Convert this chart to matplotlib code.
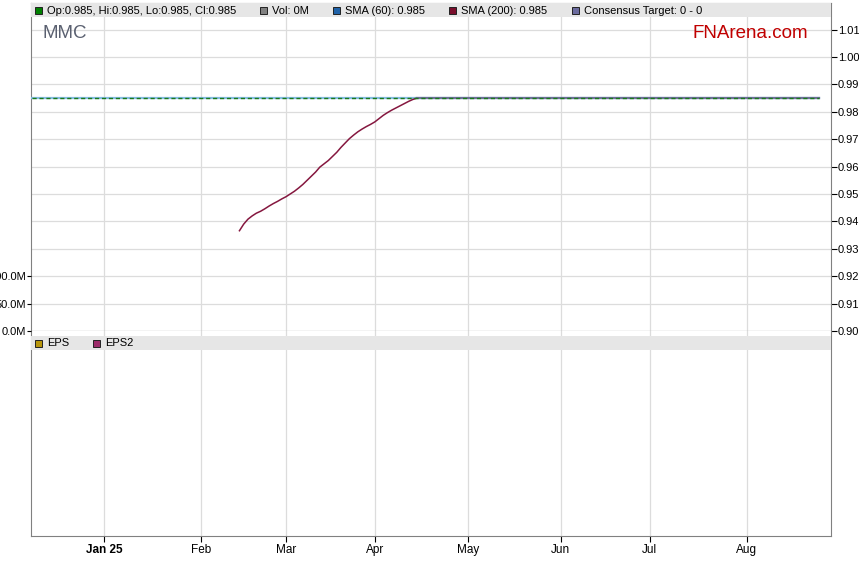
import matplotlib
matplotlib.use("Agg")
import matplotlib.pyplot as plt
import matplotlib.patches as mpatches
import pandas as pd

# trading days shown on the chart
dates = pd.bdate_range("2024-12-09", "2025-08-26")
price = [0.985] * len(dates)
sma60 = [0.985] * len(dates)

# SMA(200) starts mid Feb and climbs to the price
sma200_start = "2025-02-14"
sma200_vals = [0.9366, 0.9390, 0.9408, 0.9420, 0.9430, 0.9437, 0.9446, 0.9456,
               0.9465, 0.9473, 0.9482, 0.9490, 0.9500, 0.9510, 0.9522, 0.9535,
               0.9550, 0.9565, 0.9580, 0.9598, 0.9610, 0.9622, 0.9637, 0.9652,
               0.9670, 0.9686, 0.9702, 0.9715, 0.9727, 0.9737, 0.9746, 0.9754,
               0.9763, 0.9775, 0.9787, 0.9797, 0.9806, 0.9814, 0.9822, 0.9830,
               0.9838, 0.9845, 0.9850]

month_labels = ["Jan 25", "Feb", "Mar", "Apr", "May", "Jun", "Jul", "Aug"]
price_ticks = [0.90, 0.91, 0.92, 0.93, 0.94, 0.95, 0.96, 0.97, 0.98, 0.99, 1.00, 1.01]
vol_ticks = [0, 50e6, 100e6]
vol_labels = ["0.0M", "50.0M", "100.0M"]

legend_top = [("Op:0.985, Hi:0.985, Lo:0.985, Cl:0.985", "#008000"),
              ("Vol: 0M", "#808080"),
              ("SMA (60): 0.985", "#1f62a8"),
              ("SMA (200): 0.985", "#7a0f2c"),
              ("Consensus Target: 0 - 0", "#6b6b9e")]
legend_top_x = [35, 260, 333, 449, 572]
legend_bot = [("EPS", "#b8960c"), ("EPS2", "#9c2c6a")]
legend_bot_x = [35, 93]

plt.rcParams["font.family"] = ["Liberation Sans", "DejaVu Sans"]

W, H = 859, 566
fig = plt.figure(figsize=(W / 100, H / 100), dpi=100)

def fbox(x0, y0, x1, y1):
    return [x0 / W, 1 - y1 / H, (x1 - x0) / W, (y1 - y0) / H]

ax = fig.add_axes(fbox(31, 3, 831, 331))
axb = fig.add_axes(fbox(31, 331, 831, 536))

xs = list(range(len(dates)))
idx = {d: i for i, d in enumerate(dates)}
s0 = idx[pd.Timestamp(sma200_start)]
n_rise = len(sma200_vals)
sx_rise = list(range(s0, s0 + n_rise))
sx_flat = list(range(s0 + n_rise - 1, len(dates)))
sy_flat = [sma200_vals[-1]] * len(sx_flat)

# month tick positions: first trading day of each month
tick_pos = []
prev = None
for i, d in enumerate(dates):
    if d.month != prev:
        if d >= pd.Timestamp("2025-01-01"):
            tick_pos.append(i)
        prev = d.month
tick_pos = tick_pos[:len(month_labels)]

jan = tick_pos[0]
xl = (jan - 17.3, tick_pos[-1] + 19.9)

grid_c = "#dcdcdc"
spine_c = "#808080"

# volume axis (left) - nothing plotted
axv = ax.twinx()
axv.yaxis.tick_left()
axv.set_ylim(0, 50e6 * 328 / 27.4)
axv.set_yticks(vol_ticks)
axv.set_yticklabels(vol_labels, fontsize=8)
axv.tick_params(axis="y", length=3, pad=0.5, colors="black")
for s in axv.spines.values():
    s.set_visible(False)

ax.plot(xs, sma60, color="#86bde3", lw=1.6, zorder=3)
ax.plot(sx_rise, sma200_vals, color="#85173f", lw=1.1, zorder=4)
ax.plot(sx_flat, sy_flat, color="#6f6f9a", lw=1.6, zorder=4)
ax.plot(xs, price, color="#1a7a1a", lw=1.0, ls=(0, (3, 2)), zorder=5)

ax.set_xlim(*xl)
ax.set_ylim(0.90, 0.90 + 0.01 * 328 / 27.4)
ax.yaxis.tick_right()
ax.set_yticks(price_ticks)
ax.set_yticklabels(["%.2f" % v for v in price_ticks], fontsize=8)
ax.tick_params(axis="y", length=4, pad=1)
ax.set_xticks(tick_pos)
ax.tick_params(axis="x", length=0, labelbottom=False)
ax.grid(True, color=grid_c, lw=0.9)
ax.set_axisbelow(True)
for s in ax.spines.values():
    s.set_color(spine_c)

# header bar
ax.add_patch(mpatches.Rectangle((0, 1 - 14 / 328), 1, 14 / 328, transform=ax.transAxes,
                                facecolor="#e6e6e6", edgecolor="none", zorder=6))
for (txt, c), px in zip(legend_top, legend_top_x):
    fx = (px - 31) / 800
    ax.add_patch(mpatches.Rectangle((fx, 1 - 11 / 328), 7 / 800, 7 / 328, transform=ax.transAxes,
                                    facecolor=c, edgecolor="#222222", lw=0.7, zorder=7))
    ax.text(fx + 12 / 800, 1 - 7.5 / 328, txt, transform=ax.transAxes, fontsize=8,
            va="center", ha="left", zorder=7)

ax.text(11 / 800, 1 - 30 / 328, "MMC", transform=ax.transAxes, fontsize=13.5,
        color="#5a6070", va="center", ha="left", zorder=7)
ax.text(777 / 800, 1 - 30 / 328, "FNArena.com", transform=ax.transAxes, fontsize=13.5,
        color="#c00000", va="center", ha="right", zorder=7)

# lower panel
axb.set_xlim(*xl)
axb.set_ylim(0, 1)
axb.set_yticks([])
axb.set_xticks(tick_pos)
axb.set_xticklabels(month_labels, fontsize=8.5, family=["Liberation Sans Narrow", "Liberation Sans", "DejaVu Sans"])
axb.get_xticklabels()[0].set_fontweight("bold")
axb.tick_params(axis="x", length=4, pad=1.5)
axb.grid(True, axis="x", color=grid_c, lw=0.9)
axb.set_axisbelow(True)
for s in axb.spines.values():
    s.set_color(spine_c)
axb.spines["top"].set_visible(False)

hb = 205
axb.add_patch(mpatches.Rectangle((0, (536 - 350) / hb), 1, 14 / hb, transform=axb.transAxes,
                                 facecolor="#e6e6e6", edgecolor="none", zorder=6))
for (txt, c), px in zip(legend_bot, legend_bot_x):
    fx = (px - 31) / 800
    axb.add_patch(mpatches.Rectangle((fx, (536 - 346.5) / hb), 7 / 800, 7 / hb, transform=axb.transAxes,
                                     facecolor=c, edgecolor="#222222", lw=0.7, zorder=7))
    axb.text(fx + 12 / 800, (536 - 343) / hb, txt, transform=axb.transAxes, fontsize=8,
             va="center", ha="left", zorder=7)

fig.savefig("out.png", dpi=100)
